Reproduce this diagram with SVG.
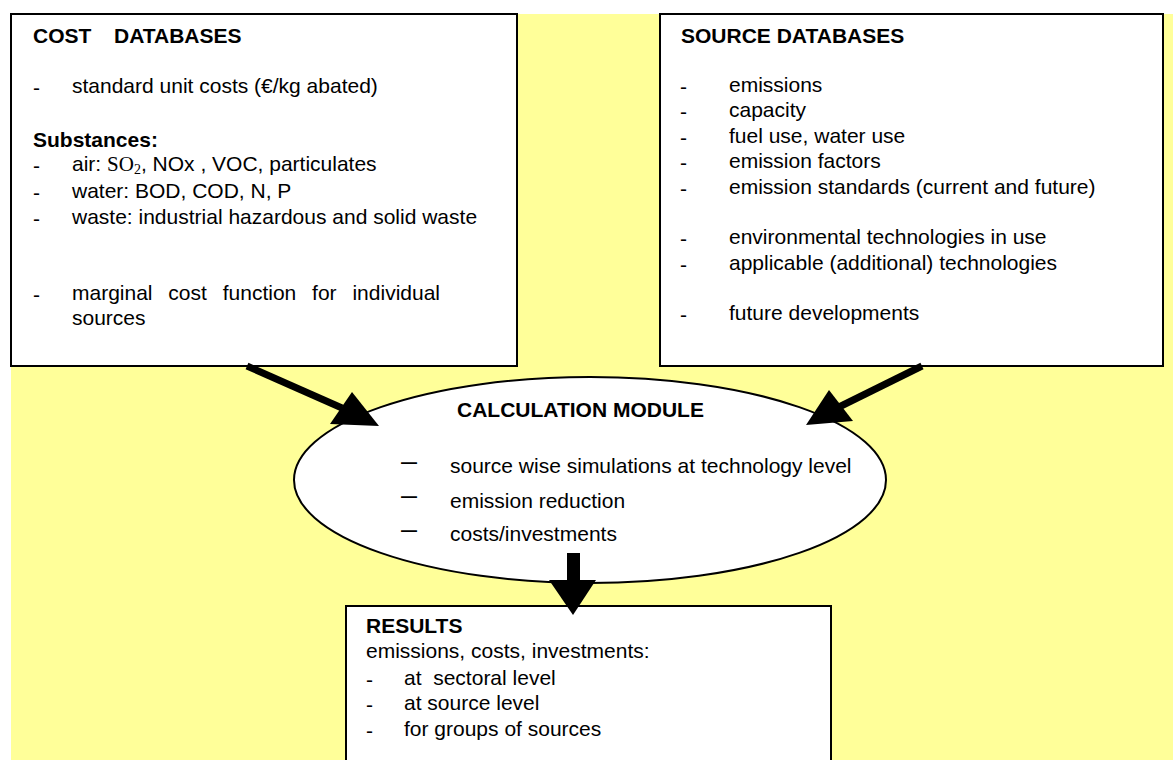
<svg xmlns="http://www.w3.org/2000/svg" width="1173" height="760" viewBox="0 0 1173 760">
<style>
text { font-family: "Liberation Sans", Arial, sans-serif; font-size: 21px; fill: #000; white-space: pre; }
.b { font-weight: bold; }
.serif { font-family: "Liberation Serif", "Times New Roman", serif; }
.box { fill: #fff; stroke: #000; stroke-width: 2; }
.shaft { stroke: #000; stroke-width: 7; stroke-linecap: butt; fill: none; }
.head { fill: #000; stroke: none; }
.emd { font-size: 16px; font-weight: bold; }
</style>
<rect x="0" y="0" width="1173" height="760" fill="#fff"/>
<rect x="11" y="14" width="1162" height="746" fill="#FFFF99"/>

<g id="cost-databases">
  <rect class="box" x="11" y="14" width="506" height="352"/>
  <text class="b" x="33" y="43">COST<tspan x="114">DATABASES</tspan></text>
  <text x="33" y="95">-</text><text x="72" y="93">standard unit costs (€/kg abated)</text>
  <text class="b" x="33" y="147">Substances:</text>
  <text x="33" y="173">-</text><text x="72" y="171">air: <tspan class="serif">SO</tspan><tspan class="serif" font-size="14" dy="3">2</tspan><tspan dy="-3">, NOx , VOC, particulates</tspan></text>
  <text x="33" y="199.5">-</text><text x="72" y="197.5">water: BOD, COD, N, P</text>
  <text x="33" y="225.5">-</text><text x="72" y="223.5">waste: industrial hazardous and solid waste</text>
  <text x="33" y="302">-</text><text x="72" y="300" word-spacing="10">marginal cost function for individual</text>
  <text x="72" y="325">sources</text>
</g>

<g id="source-databases">
  <rect class="box" x="660" y="14" width="503" height="352"/>
  <text class="b" x="681" y="43">SOURCE DATABASES</text>
  <text x="680" y="94">-</text><text x="729" y="92">emissions</text>
  <text x="680" y="119">-</text><text x="729" y="117">capacity</text>
  <text x="680" y="145">-</text><text x="729" y="143">fuel use, water use</text>
  <text x="680" y="170">-</text><text x="729" y="168">emission factors</text>
  <text x="680" y="195.5">-</text><text x="729" y="193.5">emission standards (current and future)</text>
  <text x="680" y="245.5">-</text><text x="729" y="243.5">environmental technologies in use</text>
  <text x="680" y="271.5">-</text><text x="729" y="269.5">applicable (additional) technologies</text>
  <text x="680" y="322">-</text><text x="729" y="320">future developments</text>
</g>

<g id="calculation-module">
  <ellipse cx="590" cy="480" rx="296" ry="103" fill="#fff" stroke="#000" stroke-width="2"/>
  <text class="b" x="457" y="417">CALCULATION MODULE</text>
  <text class="emd" x="401" y="468">—</text><text x="450" y="473">source wise simulations at technology level</text>
  <text class="emd" x="401" y="502">—</text><text x="450" y="507.5">emission reduction</text>
  <text class="emd" x="401" y="536">—</text><text x="450" y="541">costs/investments</text>
</g>

<g id="results">
  <rect class="box" x="346" y="606" width="485" height="170"/>
  <text class="b" x="366" y="633">RESULTS</text>
  <text x="366" y="658">emissions, costs, investments:</text>
  <text x="366" y="687">-</text><text x="404" y="685">at  sectoral level</text>
  <text x="366" y="712">-</text><text x="404" y="710">at source level</text>
  <text x="366" y="738">-</text><text x="404" y="736">for groups of sources</text>
</g>

<g id="connectors">
  <line class="shaft" x1="247" y1="366" x2="342" y2="408"/>
  <polygon class="head" points="352,392 330,424 379,426"/>
  <line class="shaft" x1="922" y1="366" x2="839" y2="407"/>
  <polygon class="head" points="829,390 853,421 806,425"/>
  <rect class="head" x="567" y="553" width="13" height="28"/>
  <polygon class="head" points="549,580 596,580 573,615"/>
</g>
</svg>
